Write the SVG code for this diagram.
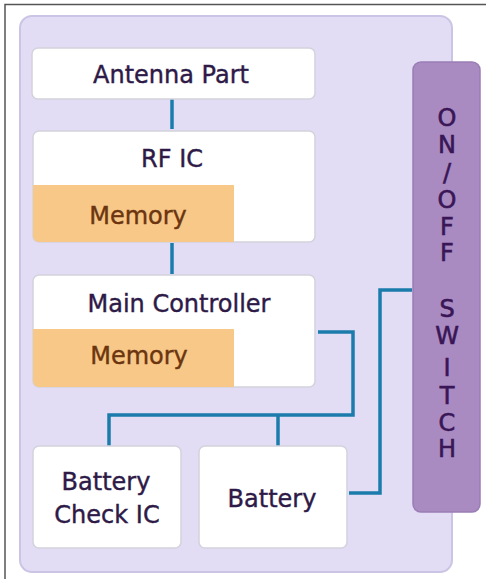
<svg xmlns="http://www.w3.org/2000/svg" width="486" height="579" viewBox="0 0 486 579">
<style>
.box{fill:#ffffff;stroke:#d4d2dc;stroke-width:1.5}
.mem{fill:#f8c888}
.t{font-family:"DejaVu Sans",sans-serif;font-size:24px;fill:#2e1a47;stroke:#2e1a47;stroke-width:0.4;text-anchor:middle}
.m{font-family:"DejaVu Sans",sans-serif;font-size:24px;fill:#6b3510;stroke:#6b3510;stroke-width:0.4;text-anchor:middle}
.sw{font-family:"DejaVu Sans",sans-serif;font-size:24px;fill:#3a1656;stroke:#3a1656;stroke-width:0.6;text-anchor:middle}
.c{fill:none;stroke:#1b7bab;stroke-width:3.5}
</style>
<rect x="0" y="0" width="486" height="579" fill="#ffffff"/>
<path d="M5 579 V4.5 H486" fill="none" stroke="#555555" stroke-width="1.5"/>
<rect id="panel" x="20" y="16" width="432" height="556" rx="12" fill="#e2ddf5" stroke="#cbc4e4" stroke-width="2"/>
<g id="connectors">
<path class="c" d="M172 99 V129"/>
<path class="c" d="M172 243 V274"/>
<path class="c" d="M318 332 H353 V415 H109 V446"/>
<path class="c" d="M278 415 V446"/>
<path class="c" d="M349 493 H380 V290 H412"/>
</g>
<g id="antenna">
<rect class="box" x="32" y="48" width="283" height="51" rx="6"/>
<text class="t" x="171" y="83">Antenna Part</text>
</g>
<g id="rfic">
<rect class="box" x="33" y="131" width="282" height="111" rx="6"/>
<path class="mem" d="M33 185 H234 V242 H39 A6 6 0 0 1 33 236 Z"/>
<text class="t" x="172" y="167">RF IC</text>
<text class="m" x="138" y="224">Memory</text>
</g>
<g id="maincontroller">
<rect class="box" x="33" y="275" width="282" height="112" rx="6"/>
<path class="mem" d="M33 329 H234 V387 H39 A6 6 0 0 1 33 381 Z"/>
<text class="t" x="179" y="312">Main Controller</text>
<text class="m" x="139" y="364">Memory</text>
</g>
<g id="batterycheck">
<rect class="box" x="33" y="446" width="148" height="102" rx="6"/>
<text class="t" x="106" y="490">Battery</text>
<text class="t" x="107" y="523">Check IC</text>
</g>
<g id="battery">
<rect class="box" x="199" y="446" width="148" height="102" rx="6"/>
<text class="t" x="272" y="507">Battery</text>
</g>
<g id="switch">
<rect x="413" y="62" width="67" height="450" rx="8" fill="#a98bc2" stroke="#9a7db5" stroke-width="1.5"/>
<text class="sw" x="447" y="126">O</text>
<text class="sw" x="447" y="153">N</text>
<text class="sw" x="447" y="181">/</text>
<text class="sw" x="447" y="208">O</text>
<text class="sw" x="447" y="235">F</text>
<text class="sw" x="447" y="261">F</text>
<text class="sw" x="447" y="317">S</text>
<text class="sw" x="447" y="344">W</text>
<text class="sw" x="447" y="376">I</text>
<text class="sw" x="447" y="404">T</text>
<text class="sw" x="447" y="431">C</text>
<text class="sw" x="447" y="457">H</text>
</g>
</svg>
